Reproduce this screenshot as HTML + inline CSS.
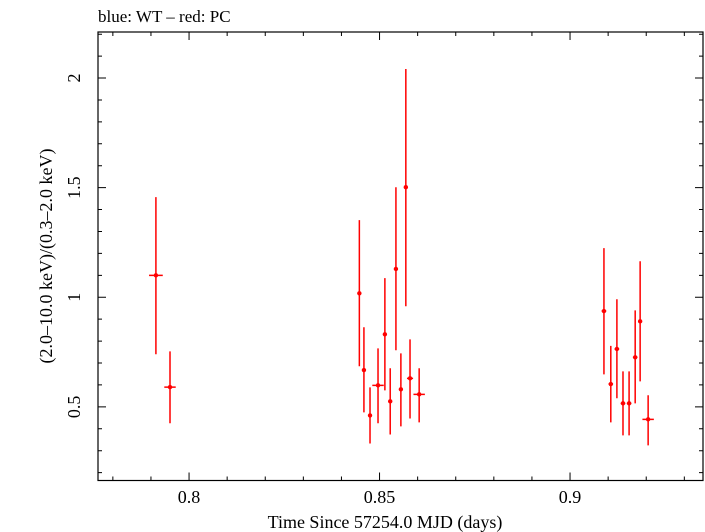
<!DOCTYPE html>
<html><head><meta charset="utf-8"><style>
body{margin:0;background:#fff}
svg{display:block;font-family:"Liberation Serif",serif}
</style></head><body>
<svg id="chart" width="705" height="532">
<text x="98" y="22" font-size="17">blue: WT – red: PC</text>
<text x="385" y="528" font-size="18" text-anchor="middle">Time Since 57254.0 MJD (days)</text>
<text transform="translate(52,256) rotate(-90)" font-size="18" text-anchor="middle">(2.0–10.0 keV)/(0.3–2.0 keV)</text>
</svg>
<script>
const xVals=[0.7913,0.7950,0.8447,0.8459,0.8475,0.8496,0.8514,0.8528,0.8543,0.8556,0.8569,0.8580,0.8604,0.9089,0.9107,0.9123,0.9139,0.9155,0.9171,0.9184,0.9205];
const xErr=[0.0018,0.0015,0.0005,0.0005,0.0005,0.0015,0.0005,0.0005,0.0005,0.0005,0.0005,0.0008,0.0015,0.0006,0.0006,0.0006,0.0006,0.0006,0.0006,0.0005,0.0015];
const yVals=[1.10,0.59,1.018,0.668,0.461,0.598,0.831,0.525,1.129,0.580,1.502,0.630,0.557,0.937,0.604,0.764,0.516,0.516,0.726,0.890,0.443];
const yHi=[1.457,0.753,1.352,0.863,0.589,0.767,1.087,0.676,1.502,0.744,2.041,0.808,0.676,1.224,0.778,0.991,0.662,0.662,0.940,1.164,0.553];
const yLo=[0.740,0.425,0.685,0.475,0.333,0.425,0.575,0.374,0.758,0.411,0.959,0.447,0.429,0.648,0.429,0.539,0.370,0.370,0.516,0.616,0.324];
const xMajor=[0.8,0.85,0.9];
const xMajorLabels=["0.8","0.85","0.9"];
const yMajor=[0.5,1,1.5,2];
const yMajorLabels=["0.5","1","1.5","2"];
const L=98,R=703,T=32,B=480.5;
const x0=0.7761,x1=0.9349,y0=0.164,y1=2.210;
const X=v=>L+(v-x0)/(x1-x0)*(R-L);
const Y=v=>B-(v-y0)/(y1-y0)*(B-T);
const svg=document.getElementById('chart');
const NS='http://www.w3.org/2000/svg';
function mk(tag,attrs){const e=document.createElementNS(NS,tag);for(const k in attrs)e.setAttribute(k,attrs[k]);svg.appendChild(e);return e;}
const frame=mk('rect',{x:L,y:T,width:R-L,height:B-T,fill:'none',stroke:'#000','stroke-width':1.2});


for(let i=78;i<=93;i++){const v=i/100;const px=X(v);const major=(i%5===0);const len=major?8:4;
 const t=mk('path',{d:`M${px},${B}v${-len}M${px},${T}v${len}`,stroke:'#000','stroke-width':1});
 
 }
for(let i=2;i<=22;i++){const v=i/10;const py=Y(v);const major=(i%5===0);const len=major?8:4;
 const t=mk('path',{d:`M${L},${py}h${len}M${R},${py}h${-len}`,stroke:'#000','stroke-width':1});
 
 }
xMajor.forEach((v,i)=>{const t=mk('text',{x:X(v),y:503,'font-size':18,'text-anchor':'middle'});t.textContent=xMajorLabels[i];
 
 });
yMajor.forEach((v,i)=>{const t=mk('text',{transform:`translate(80,${Y(v)}) rotate(-90)`,'font-size':18,'text-anchor':'middle'});t.textContent=yMajorLabels[i];
 
 });
xVals.forEach((v,i)=>{const px=X(v),py=Y(yVals[i]);
 const g=mk('path',{d:`M${px},${Y(yHi[i])}V${Y(yLo[i])}M${X(v-xErr[i])},${py}H${X(v+xErr[i])}`,stroke:'#f00','stroke-width':1.5,fill:'none'});
 
 
 const c=mk('circle',{cx:px,cy:py,r:2.2,fill:'#f00'});
 
 });
</script>
</body></html>
